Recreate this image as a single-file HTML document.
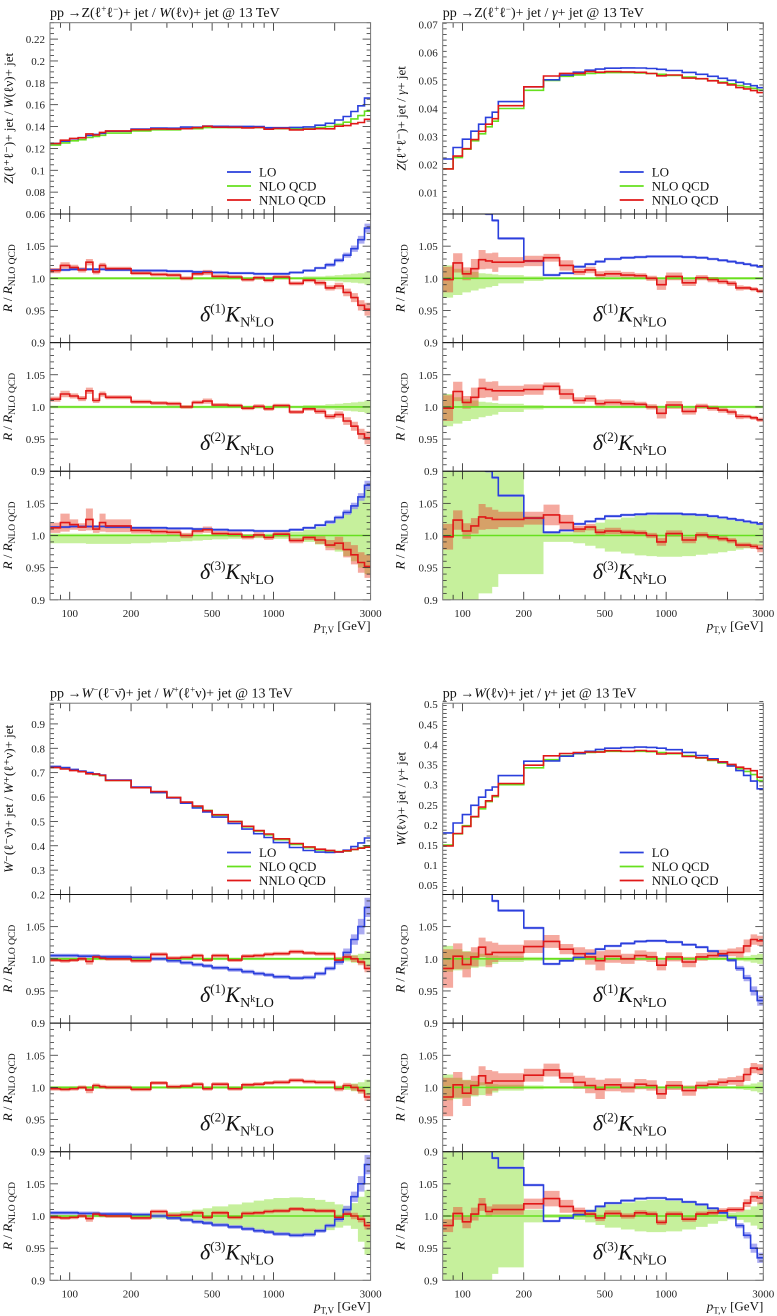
<!DOCTYPE html>
<html><head><meta charset="utf-8"><style>
html,body{margin:0;padding:0;background:#fff;}
svg{display:block;font-family:"Liberation Serif",serif;}
</style></head><body>
<svg id="fig" width="777" height="1316" viewBox="0 0 777 1316" xmlns="http://www.w3.org/2000/svg"></svg>
<script>
// ---- data ----
const binEdges=[80,90,100,110,120,130,140,150,200,250,300,350,400,450,500,600,700,800,900,1000,1200,1400,1600,1800,2000,2200,2400,2600,2800,3000];
const xTickLabels=[100,200,500,1000,3000];
const ratioTickLabels=["0.9","0.95","1.0","1.05"];

// Group A: Z/W
const A_nlo=[0.123,0.125,0.127,0.128,0.130,0.131,0.132,0.134,0.136,0.137,0.137,0.138,0.138,0.139,0.139,0.139,0.139,0.139,0.138,0.138,0.138,0.138,0.139,0.140,0.142,0.144,0.147,0.150,0.154];
const A_rLO=[1.013,1.013,1.014,1.014,1.014,1.014,1.014,1.013,1.012,1.012,1.011,1.011,1.010,1.010,1.009,1.008,1.008,1.007,1.007,1.007,1.009,1.012,1.016,1.021,1.028,1.036,1.046,1.060,1.078];
const A_rNNLO=[1.012,1.020,1.017,1.013,1.025,1.010,1.020,1.015,1.008,1.006,1.005,1.000,1.007,1.009,1.003,1.002,0.998,1.001,0.997,1.002,0.992,0.997,0.993,0.985,0.988,0.978,0.970,0.958,0.952];
const A_nloUp1=[.002,.002,.002,.002,.002,.002,.002,.002,.002,.002,.002,.002,.002,.002,.002,.002,.002,.002,.002,.002,.002,.003,.003,.004,.005,.006,.007,.008,.010];
const A_nloDn1=A_nloUp1;
const A_loBand=[.002,.002,.002,.002,.002,.002,.002,.002,.002,.002,.002,.002,.002,.002,.002,.002,.002,.002,.002,.002,.002,.002,.002,.003,.003,.004,.005,.006,.007];
const A_nnBand1=[.004,.005,.004,.004,.005,.004,.004,.003,.003,.003,.003,.003,.003,.004,.003,.003,.003,.003,.003,.003,.003,.003,.004,.004,.005,.006,.007,.008,.010];
const A_nnBand3=[.008,.014,.008,.006,.017,.006,.014,.010,.005,.004,.004,.004,.004,.005,.004,.004,.004,.004,.004,.004,.004,.004,.006,.008,.010,.012,.015,.016,.018];
const A_nloUp3=[.003,.003,.003,.003,.003,.003,.003,.003,.002,.002,.002,.002,.002,.002,.002,.002,.002,.002,.003,.004,.006,.009,.013,.018,.025,.033,.044,.058,.075];
const A_nloDn3=[.012,.012,.012,.012,.013,.013,.013,.013,.012,.011,.010,.009,.008,.007,.006,.005,.004,.004,.004,.005,.007,.010,.014,.019,.025,.032,.040,.050,.060];

// Group B: Z/gamma
const B_nlo=[0.0185,0.0225,0.0255,0.0285,0.031,0.0335,0.0355,0.040,0.0465,0.050,0.0515,0.052,0.0525,0.0527,0.0528,0.0528,0.0527,0.0525,0.0522,0.0518,0.0512,0.0506,0.0500,0.0494,0.0488,0.0482,0.0477,0.0472,0.0466];
const B_rLO=[1.19,1.16,1.14,1.12,1.11,1.10,1.09,1.062,1.027,1.005,1.008,1.018,1.022,1.026,1.030,1.032,1.033,1.034,1.034,1.034,1.033,1.032,1.030,1.028,1.026,1.024,1.022,1.020,1.018];
const B_rNNLO=[0.998,1.024,1.007,1.015,1.029,1.027,1.025,1.025,1.027,1.032,1.020,1.010,1.013,1.005,1.007,1.005,1.004,1.000,0.990,1.003,0.993,1.001,0.998,0.995,0.992,0.985,0.985,0.983,0.980];
const B_nloUp1=[.020,.015,.012,.010,.008,.007,.006,.005,.003,.002,.002,.002,.002,.002,.002,.002,.002,.002,.002,.002,.002,.002,.002,.002,.002,.002,.002,.002,.002];
const B_nloDn1=[.030,.026,.022,.019,.016,.014,.012,.008,.004,.002,.002,.002,.002,.002,.002,.002,.002,.002,.002,.002,.002,.002,.002,.002,.002,.002,.002,.002,.002];
const B_loBand=[.002,.002,.002,.002,.002,.002,.002,.002,.002,.002,.002,.002,.002,.002,.002,.002,.002,.002,.002,.002,.002,.002,.002,.002,.002,.002,.002,.002,.002];
const B_nnBand1=[.020,.015,.010,.015,.015,.012,.015,.008,.008,.006,.008,.005,.005,.006,.005,.005,.004,.004,.008,.006,.005,.004,.004,.004,.004,.004,.003,.003,.003];
const B_nnBand3=[.020,.015,.012,.012,.020,.017,.015,.012,.010,.016,.012,.005,.005,.005,.005,.004,.004,.004,.006,.005,.005,.004,.004,.004,.004,.004,.004,.004,.006];
const B_nloUp3=[.12,.12,.12,.12,.12,.12,.12,.10,.03,.005,.005,.010,.015,.020,.025,.028,.031,.032,.033,.033,.032,.030,.028,.026,.024,.022,.020,.018,.016];
const B_nloDn3=[.12,.12,.10,.10,.09,.09,.08,.06,.06,.010,.010,.012,.016,.020,.025,.028,.031,.032,.033,.033,.032,.030,.028,.026,.024,.022,.020,.018,.016];

// Group C: W-/W+
const C_nlo=[0.722,0.717,0.710,0.704,0.698,0.692,0.688,0.668,0.640,0.618,0.598,0.578,0.560,0.545,0.525,0.500,0.478,0.460,0.445,0.425,0.405,0.392,0.383,0.378,0.376,0.378,0.385,0.392,0.400];
const C_rLO=[1.005,1.005,1.005,1.004,1.004,1.004,1.003,1.003,1.002,1.000,0.997,0.994,0.991,0.989,0.986,0.983,0.980,0.977,0.975,0.972,0.970,0.971,0.977,0.985,0.995,1.010,1.030,1.050,1.080];
const C_rNNLO=[0.998,0.997,0.998,1.000,0.996,1.003,1.001,1.000,0.997,1.007,1.001,1.002,1.005,0.998,1.005,0.998,1.004,1.005,1.007,1.008,1.011,1.009,1.008,1.008,0.998,1.003,1.000,0.995,0.985];
const C_nloUp1=[.002,.002,.002,.002,.002,.002,.002,.002,.002,.002,.002,.002,.002,.002,.002,.002,.002,.002,.002,.002,.002,.002,.002,.002,.003,.004,.006,.008,.012];
const C_nloDn1=C_nloUp1;
const C_loBand=[.003,.003,.003,.003,.003,.003,.003,.003,.003,.003,.003,.003,.003,.003,.003,.003,.003,.003,.003,.003,.003,.003,.003,.003,.004,.006,.008,.012,.015];
const C_nnBand1=[.003,.003,.003,.003,.005,.003,.003,.003,.003,.003,.003,.003,.003,.003,.003,.003,.003,.003,.003,.003,.003,.003,.003,.003,.004,.004,.005,.005,.006];
const C_nnBand3=C_nnBand1;
const C_nloUp3=[.002,.002,.002,.002,.002,.002,.002,.002,.003,.004,.006,.008,.010,.012,.015,.018,.021,.024,.026,.028,.029,.028,.025,.022,.018,.015,.020,.030,.040];
const C_nloDn3=[.002,.002,.002,.002,.002,.002,.002,.002,.003,.004,.006,.008,.010,.012,.015,.018,.021,.024,.026,.028,.029,.028,.025,.022,.018,.015,.020,.040,.060];

// Group D: W/gamma
const D_nlo=[0.150,0.178,0.198,0.220,0.240,0.258,0.270,0.300,0.342,0.362,0.372,0.377,0.380,0.382,0.383,0.383,0.383,0.382,0.380,0.377,0.372,0.366,0.360,0.354,0.347,0.340,0.333,0.325,0.310];
const D_rLO=[1.20,1.15,1.14,1.13,1.12,1.11,1.09,1.075,1.048,0.992,0.997,1.002,1.008,1.015,1.020,1.024,1.027,1.028,1.028,1.026,1.022,1.018,1.012,1.005,0.998,0.985,0.970,0.950,0.935];
const D_rNNLO=[0.985,1.004,0.991,1.003,1.018,1.007,1.010,1.010,1.019,1.027,1.015,1.008,1.003,0.997,1.004,1.000,1.005,1.003,0.990,1.003,0.995,1.003,1.005,1.008,1.010,1.010,1.020,1.030,1.028];
const D_nloUp1=[.020,.015,.012,.010,.008,.006,.005,.004,.003,.002,.002,.002,.002,.002,.002,.002,.002,.002,.002,.002,.002,.002,.002,.002,.002,.003,.004,.006,.008];
const D_nloDn1=[.020,.018,.016,.014,.012,.010,.008,.005,.003,.002,.002,.002,.002,.002,.002,.002,.002,.002,.002,.002,.002,.002,.002,.002,.002,.003,.004,.006,.008];
const D_loBand=[.002,.002,.002,.002,.002,.002,.002,.002,.002,.002,.002,.002,.002,.002,.002,.002,.002,.002,.002,.002,.002,.002,.002,.002,.003,.004,.005,.007,.008];
const D_nnBand1=[.030,.020,.020,.015,.015,.020,.015,.012,.010,.010,.008,.010,.012,.015,.010,.008,.008,.008,.008,.007,.008,.006,.006,.006,.006,.008,.010,.008,.008];
const D_nnBand3=[.010,.010,.010,.010,.010,.008,.008,.008,.008,.012,.010,.005,.005,.005,.005,.004,.004,.004,.004,.004,.004,.004,.004,.004,.004,.004,.006,.008,.010];
const D_nloUp3=[.12,.12,.12,.12,.12,.12,.12,.12,.010,.003,.003,.006,.010,.014,.018,.021,.024,.025,.025,.024,.021,.017,.012,.008,.005,.006,.010,.015,.020];
const D_nloDn3=[.12,.11,.11,.10,.10,.10,.09,.08,.010,.003,.003,.006,.010,.014,.018,.021,.024,.025,.025,.024,.021,.017,.012,.008,.005,.006,.010,.015,.020];

// ---- drawing ----
const NS="http://www.w3.org/2000/svg";
const svg=document.getElementById('fig');
const C_LO="#2a3fdc",C_NLO="#66e01e",C_NN="#e01818";
function mk(tag,attrs,parent){const e=document.createElementNS(NS,tag);for(const k in attrs)e.setAttribute(k,attrs[k]);(parent||svg).appendChild(e);return e;}
const W=320.6, X0=80, X1=3000;
let clipId=0;

function stepPath(xf,yf,vals){let d="";for(let i=0;i<vals.length;i++){const xa=xf(binEdges[i]),xb=xf(binEdges[i+1]),y=yf(vals[i]);d+=(i===0?"M":"L")+xa.toFixed(1)+","+y.toFixed(1)+"L"+xb.toFixed(1)+","+y.toFixed(1);}return d;}
function bandPath(xf,yf,center,up,dn){let d="";for(let i=0;i<center.length;i++){const c=center[i];const xa=xf(binEdges[i]),xb=xf(binEdges[i+1]);const y1=yf(c+up[i]),y2=yf(c-dn[i]);d+="M"+xa.toFixed(1)+","+y1.toFixed(1)+"H"+xb.toFixed(1)+"V"+y2.toFixed(1)+"H"+xa.toFixed(1)+"Z";}return d;}

function xTicks(g,xf,yTop,yBot){
  const majors=[100,200,500,1000,2000];
  for(let v=90;v<=3000;v+=(v<100?10:v<1000?100:1000)){
    if(v<X0)continue;
    const major=majors.includes(v);const L=major?8:5;const x=xf(v);
    const t=mk('line',{x1:x,x2:x,y1:yBot,y2:yBot-L,stroke:'#222','stroke-width':0.8},g);
    
    const t2=mk('line',{x1:x,x2:x,y1:yTop,y2:yTop+L,stroke:'#222','stroke-width':0.8},g);
    
  }
}
function yTicks(g,ox,yf,lo,hi,minorStep,majorVals){
  const n=Math.round((hi-lo)/minorStep);
  for(let i=0;i<=n;i++){const v=lo+i*minorStep;const y=yf(v);
    const maj=majorVals.some(m=>Math.abs(m-v)<minorStep/10);const L=maj?8:4;
    const a=mk('line',{x1:ox,x2:ox+L,y1:y,y2:y,stroke:'#333','stroke-width':0.8},g);
    
    const b=mk('line',{x1:ox+W,x2:ox+W-L,y1:y,y2:y,stroke:'#333','stroke-width':0.8},g);
    }
}
function clip(ox,top,bot){clipId++;const cp=mk('clipPath',{id:'cp'+clipId});mk('rect',{x:ox,y:top,width:W,height:bot-top},cp);return 'url(#cp'+clipId+')';}

function drawGroup(cfg){
  const {ox,oy,title,ylab,ymin,ymax,ymaj,ymajLabels,yminor,nlo,rLO,rNN,nloUp1,nloDn1,loBand,nnBand1,nnBand3,nloUp3,nloDn3,name}=cfg;
  const G=mk('g',{});
  const xf=v=>ox+(Math.log10(v)-Math.log10(X0))/(Math.log10(X1)-Math.log10(X0))*W;
  const mT=oy+22.7,mB=oy+214,pH=128.6;
  const tt=mk('text',{x:ox,y:oy+17,'font-size':14,fill:'#111'},G);tt.innerHTML=title;
  
  const mg=mk('g',{},G);
  const yf=v=>mB-(v-ymin)/(ymax-ymin)*(mB-mT);
  const cl=clip(ox,mT,mB);
  const lines=mk('g',{'clip-path':cl},mg);
  const loV=nlo.map((v,i)=>v*rLO[i]),nnV=nlo.map((v,i)=>v*rNN[i]);
  const sN=mk('path',{d:stepPath(xf,yf,nlo),fill:'none',stroke:C_NLO,'stroke-width':1.6},lines);
  
  const sL=mk('path',{d:stepPath(xf,yf,loV),fill:'none',stroke:C_LO,'stroke-width':1.6},lines);
  
  const sR=mk('path',{d:stepPath(xf,yf,nnV),fill:'none',stroke:C_NN,'stroke-width':1.6},lines);
  
  yTicks(mg,ox,yf,ymin,ymax,yminor,ymaj);
  ymaj.forEach((v,i)=>{const t=mk('text',{x:ox-5,y:yf(v)+4,'font-size':11,'text-anchor':'end',fill:'#222'},mg);t.textContent=ymajLabels[i];
    });
  xTicks(mg,xf,mT,mB);
  const fr=mk('rect',{x:ox,y:mT,width:W,height:mB-mT,fill:'none',stroke:'#777','stroke-width':1},mg);
  
  const yl=mk('text',{transform:`translate(${ox-37},${(mT+mB)/2}) rotate(-90)`,'font-size':13,'text-anchor':'middle',fill:'#111'},mg);
  yl.innerHTML=ylab;
  const lg=mk('g',{},mg);
  [["LO",C_LO],["NLO QCD",C_NLO],["NNLO QCD",C_NN]].forEach((e,i)=>{
    const y=oy+172+i*14;const lx=ox+177;
    const ln=mk('line',{x1:lx,x2:lx+24,y1:y,y2:y,stroke:e[1],'stroke-width':1.8},lg);
    
    const t=mk('text',{x:lx+32,y:y+4.5,'font-size':13,fill:'#111'},lg);t.textContent=e[0];
    });
  const ones=nlo.map(()=>1);
  for(let p=0;p<3;p++){
    const top=mB+p*pH,bot=top+pH;
    const rg=mk('g',{},G);
    const rf=v=>bot-(v-0.9)/0.2*pH;
    const c=mk('g',{'clip-path':clip(ox,top,bot)},rg);
    const up=p===2?nloUp3:nloUp1,dn=p===2?nloDn3:nloDn1;
    const b1=mk('path',{d:bandPath(xf,rf,ones,up,dn),fill:'#c6f09c'},c);
    
    if(p!==1){const b2=mk('path',{d:bandPath(xf,rf,rLO,loBand,loBand),fill:'#8f8fee','fill-opacity':0.75},c);
      }
    const nb=p===2?nnBand3:nnBand1;
    const b3=mk('path',{d:bandPath(xf,rf,rNN,nb,nb),fill:'#e8402a','fill-opacity':0.45},c);
    
    const l1=mk('path',{d:stepPath(xf,rf,ones),fill:'none',stroke:C_NLO,'stroke-width':1.6},c);
    
    if(p!==1){const l2=mk('path',{d:stepPath(xf,rf,rLO),fill:'none',stroke:C_LO,'stroke-width':1.6},c);
      }
    const l3=mk('path',{d:stepPath(xf,rf,rNN),fill:'none',stroke:C_NN,'stroke-width':1.6},c);
    
    yTicks(rg,ox,rf,0.9,1.1,0.01,[0.9,0.95,1.0,1.05,1.1]);
    [0.9,0.95,1.0,1.05].forEach((v,i)=>{const t=mk('text',{x:ox-5,y:rf(v)+4,'font-size':11,'text-anchor':'end',fill:'#222'},rg);t.textContent=ratioTickLabels[i];
      });
    xTicks(rg,xf,top,bot);
    const f=mk('rect',{x:ox,y:top,width:W,height:pH,fill:'none',stroke:'#777','stroke-width':1},rg);
    
    const sep=mk('line',{x1:ox,x2:ox+W,y1:top,y2:top,stroke:'#111','stroke-width':1},rg);
    
    const ry=mk('text',{transform:`translate(${ox-38},${rf(1.0)}) rotate(-90)`,'font-size':13,'text-anchor':'middle',fill:'#111'},rg);
    ry.innerHTML='<tspan font-style="italic">R</tspan> / <tspan font-style="italic">R</tspan><tspan font-size="9.5" dy="3">NLO QCD</tspan>';
    
    const an=mk('text',{x:ox+150,y:bot-21,'font-size':22,fill:'#111'},rg);
    an.innerHTML='<tspan font-style="italic">δ</tspan><tspan font-size="13" dy="-9">('+(p+1)+')</tspan><tspan font-style="italic" dy="9">K</tspan><tspan font-size="14" dy="5">N</tspan><tspan font-size="10" dy="-5">k</tspan><tspan font-size="14" dy="5">LO</tspan>';
    
  }
  const last=mB+3*pH;
  xTickLabels.forEach(v=>{const t=mk('text',{x:xf(v),y:last+17,'font-size':11,'text-anchor':'middle',fill:'#222'},G);t.textContent=v;
    });
  const xt=mk('text',{x:ox+W,y:last+30,'font-size':13,'text-anchor':'end',fill:'#111'},G);
  xt.innerHTML='<tspan font-style="italic">p</tspan><tspan font-size="9" dy="3">T,V</tspan><tspan dy="-3"> [GeV]</tspan>';
  
}

drawGroup({name:'chart-z-over-w',ox:50,oy:0,
 title:'pp →Z(ℓ<tspan font-size="9" dy="-5">+</tspan><tspan dy="5">ℓ</tspan><tspan font-size="9" dy="-5">−</tspan><tspan dy="5">)+ jet / </tspan><tspan font-style="italic">W</tspan>(ℓν)+ jet @ 13 TeV',
 ylab:'<tspan font-style="italic">Z</tspan>(ℓ⁺ℓ⁻)+ jet / <tspan font-style="italic">W</tspan>(ℓν)+ jet',
 ymin:0.06,ymax:0.235,ymaj:[0.06,0.08,0.1,0.12,0.14,0.16,0.18,0.2,0.22],ymajLabels:["0.06","0.08","0.1","0.12","0.14","0.16","0.18","0.2","0.22"],yminor:0.005,
 nlo:A_nlo,rLO:A_rLO,rNN:A_rNNLO,nloUp1:A_nloUp1,nloDn1:A_nloDn1,loBand:A_loBand,nnBand1:A_nnBand1,nnBand3:A_nnBand3,nloUp3:A_nloUp3,nloDn3:A_nloDn3});
drawGroup({name:'chart-z-over-gamma',ox:442.7,oy:0,
 title:'pp →Z(ℓ<tspan font-size="9" dy="-5">+</tspan><tspan dy="5">ℓ</tspan><tspan font-size="9" dy="-5">−</tspan><tspan dy="5">)+ jet / </tspan><tspan font-style="italic">γ</tspan>+ jet @ 13 TeV',
 ylab:'<tspan font-style="italic">Z</tspan>(ℓ⁺ℓ⁻)+ jet / <tspan font-style="italic">γ</tspan>+ jet',
 ymin:0.0024,ymax:0.0706,ymaj:[0.01,0.02,0.03,0.04,0.05,0.06,0.07],ymajLabels:["0.01","0.02","0.03","0.04","0.05","0.06","0.07"],yminor:0.002,
 nlo:B_nlo,rLO:B_rLO,rNN:B_rNNLO,nloUp1:B_nloUp1,nloDn1:B_nloDn1,loBand:B_loBand,nnBand1:B_nnBand1,nnBand3:B_nnBand3,nloUp3:B_nloUp3,nloDn3:B_nloDn3});
drawGroup({name:'chart-wminus-over-wplus',ox:50,oy:680.5,
 title:'pp →<tspan font-style="italic">W</tspan><tspan font-size="9" dy="-5">−</tspan><tspan dy="5">(ℓ</tspan><tspan font-size="9" dy="-5">−</tspan><tspan dy="5">ν̄)+ jet / </tspan><tspan font-style="italic">W</tspan><tspan font-size="9" dy="-5">+</tspan><tspan dy="5">(ℓ</tspan><tspan font-size="9" dy="-5">+</tspan><tspan dy="5">ν)+ jet @ 13 TeV</tspan>',
 ylab:'<tspan font-style="italic">W</tspan>⁻(ℓ⁻ν̄)+ jet / <tspan font-style="italic">W</tspan>⁺(ℓ⁺ν)+ jet',
 ymin:0.2,ymax:0.985,ymaj:[0.2,0.3,0.4,0.5,0.6,0.7,0.8,0.9],ymajLabels:["0.2","0.3","0.4","0.5","0.6","0.7","0.8","0.9"],yminor:0.02,
 nlo:C_nlo,rLO:C_rLO,rNN:C_rNNLO,nloUp1:C_nloUp1,nloDn1:C_nloDn1,loBand:C_loBand,nnBand1:C_nnBand1,nnBand3:C_nnBand3,nloUp3:C_nloUp3,nloDn3:C_nloDn3});
drawGroup({name:'chart-w-over-gamma',ox:442.7,oy:680.5,
 title:'pp →<tspan font-style="italic">W</tspan>(ℓν)+ jet / <tspan font-style="italic">γ</tspan>+ jet @ 13 TeV',
 ylab:'<tspan font-style="italic">W</tspan>(ℓν)+ jet / <tspan font-style="italic">γ</tspan>+ jet',
 ymin:0.027,ymax:0.5025,ymaj:[0.05,0.1,0.15,0.2,0.25,0.3,0.35,0.4,0.45,0.5],ymajLabels:["0.05","0.1","0.15","0.2","0.25","0.3","0.35","0.4","0.45","0.5"],yminor:0.01,
 nlo:D_nlo,rLO:D_rLO,rNN:D_rNNLO,nloUp1:D_nloUp1,nloDn1:D_nloDn1,loBand:D_loBand,nnBand1:D_nnBand1,nnBand3:D_nnBand3,nloUp3:D_nloUp3,nloDn3:D_nloDn3});
</script>
</body></html>
